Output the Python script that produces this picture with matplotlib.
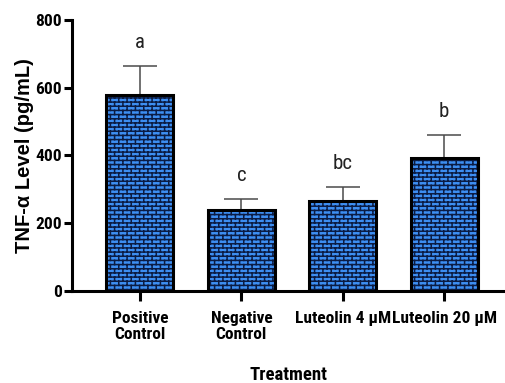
import matplotlib
matplotlib.use("Agg")
import matplotlib.pyplot as plt
import matplotlib.hatch as mhatch
from matplotlib.path import Path
import numpy as np

categories = ["Positive\nControl", "Negative\nControl", "Luteolin 4 µM", "Luteolin 20 µM"]
means = [578, 239, 265, 393]
errors = [86, 32, 42, 67]
letters = ["a", "c", "bc", "b"]
yticks = [0, 200, 400, 600, 800]


class BrickHatch(mhatch.HatchPatternBase):
    """Staggered short vertical joints between the horizontal hatch lines."""
    def __init__(self, hatch, density):
        self.nh = int(hatch.count('-') * density)
        self.nv = int(hatch.count('|') * density)
        self.num_vertices = 0 if (self.nh == 0 or self.nv == 0) else 2 * (self.nh + 1) * self.nv

    def set_vertices_and_codes(self, vertices, codes):
        nh, nv = self.nh, self.nv
        segs = []
        for k in range(nh):
            xs = (np.arange(nv) + 0.5 * (k % 2) + 0.25) / nv
            if k == 0:
                spans = [(0.0, 0.5 / nh), ((nh - 0.5) / nh, 1.0)]
            else:
                spans = [((k - 0.5) / nh, (k + 0.5) / nh)]
            for y0, y1 in spans:
                for xv in xs:
                    segs.append((xv, y0, xv, y1))
        segs = np.array(segs)
        vertices[0::2, 0] = segs[:, 0]
        vertices[0::2, 1] = segs[:, 1]
        vertices[1::2, 0] = segs[:, 2]
        vertices[1::2, 1] = segs[:, 3]
        codes[0::2] = Path.MOVETO
        codes[1::2] = Path.LINETO


mhatch._hatch_types = [t for t in mhatch._hatch_types if t is not mhatch.VerticalHatch] + [BrickHatch]

COND = "Roboto Condensed"
plt.rcParams["hatch.linewidth"] = 1.1
fig = plt.figure(figsize=(5.05, 3.83), dpi=100)
ax = fig.add_axes([0.1426, 0.240, 0.8574, 0.708])

x = list(range(len(categories)))
ax.bar(x, means, width=0.66, color="#3d8ef2", edgecolor="#0b1c44",
       hatch="----||", linewidth=0, zorder=2)
ax.bar(x, means, width=0.66, fill=False, edgecolor="black", linewidth=2.2, zorder=3)
ax.errorbar(x, means, yerr=[[0] * len(means), errors], fmt="none", ecolor="#4a4a4a",
            elinewidth=1.1, capsize=12, capthick=1.1, zorder=1)
for xi, m, e, l in zip(x, means, errors, letters):
    ax.annotate(l, (xi, m + e), xytext=(0, 10), textcoords="offset points",
                ha="center", va="bottom", fontsize=15, family=COND, color="#222222")

ax.set_xlim(-0.67, 3.6)
ax.set_ylim(0, 800)
ax.set_yticks(yticks)
ax.set_yticklabels([str(v) for v in yticks], family=COND, fontweight="bold", fontsize=12.5)
ax.set_xticks(x)
ax.set_xticklabels(categories, family=COND, fontweight="bold", fontsize=12.5, linespacing=1.15)
for s in ["top", "right"]:
    ax.spines[s].set_visible(False)
for s in ["left", "bottom"]:
    ax.spines[s].set_linewidth(2.2)
ax.tick_params(axis="y", width=2.2, length=6, pad=1.5)
ax.tick_params(axis="x", width=2.2, length=7, pad=7)
ax.set_ylabel("TNF-α Level (pg/mL)", family="Liberation Sans", fontweight="bold",
              fontsize=14.5, labelpad=0.5)
ax.set_xlabel("Treatment", family=COND, fontweight="bold", fontsize=13.5, labelpad=17)

fig.savefig("out.png", dpi=100)
